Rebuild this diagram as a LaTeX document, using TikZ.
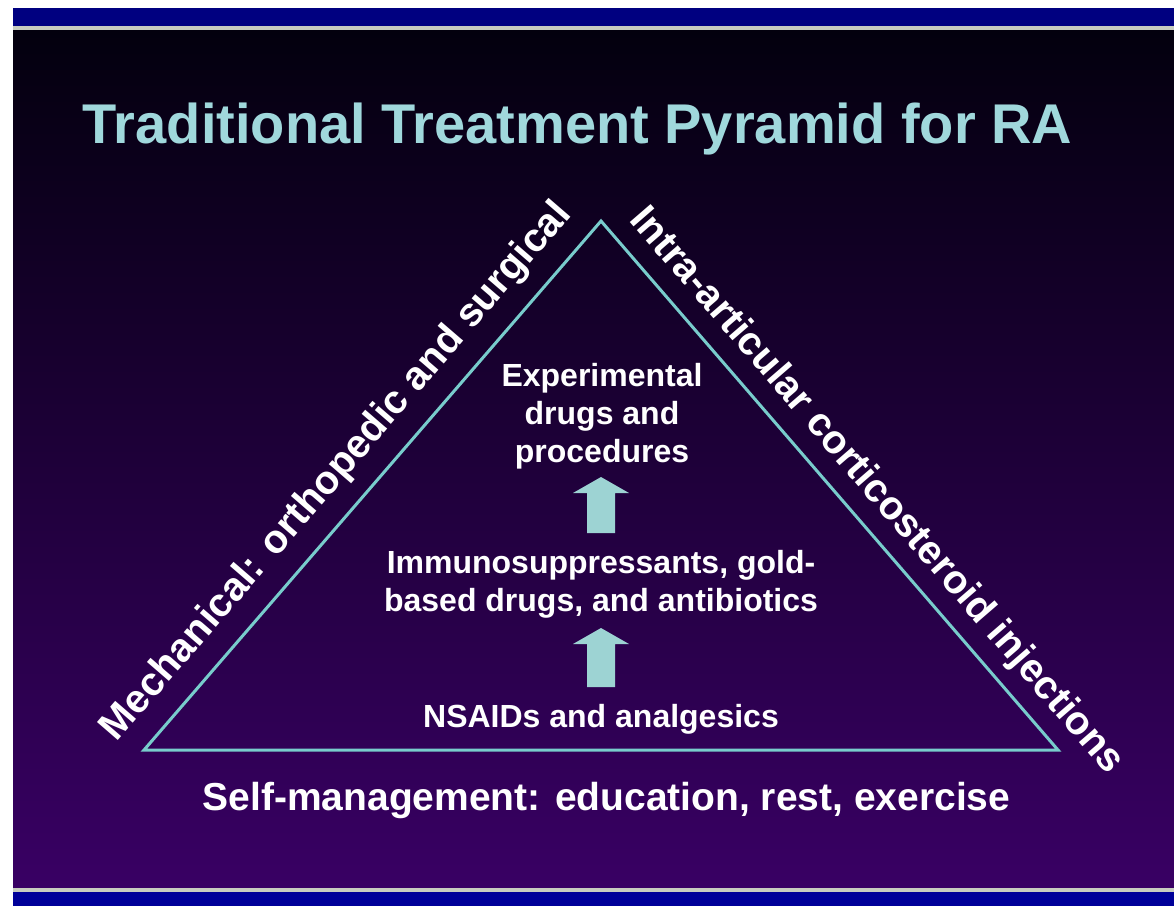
\documentclass[tikz,border=0pt]{standalone}
\usepackage{fontspec}
\setmainfont{Liberation Sans}
\definecolor{barblue}{HTML}{000080}
\definecolor{barbluelow}{HTML}{000099}
\definecolor{barline}{HTML}{C8CCC0}
\definecolor{bgtop}{HTML}{03000E}
\definecolor{bgbot}{HTML}{390064}
\definecolor{titlecyan}{HTML}{A0D8DC}
\definecolor{pyrline}{HTML}{78CCCC}
\definecolor{arrowfill}{HTML}{9DD3D3}
\begin{document}
\begin{tikzpicture}[x=1pt,y=-1pt,
  txt/.style={text=white,font=\bfseries\fontsize{32}{38}\selectfont,inner sep=0pt,align=center},
  side/.style={text=white,font=\bfseries\fontsize{40}{48}\selectfont,inner sep=0pt},
  edge/.style={draw=pyrline,line width=3pt,line join=miter},
  uparrow/.style={fill=arrowfill,draw=none}]
\useasboundingbox (0,0) rectangle (1174,906);

% fond et bandes
\fill[white] (0,0) rectangle (1174,906);
\fill[barblue] (13,8) rectangle (1174,26);
\fill[barline] (13,26) rectangle (1174,30);
\shade[top color=bgtop,bottom color=bgbot] (13,30) rectangle (1174,888);
\fill[barline] (13,888) rectangle (1174,892);
\fill[barbluelow] (13,892) rectangle (1174,906);

% titre
\node[anchor=base,text=titlecyan,font=\bfseries\fontsize{56}{64}\selectfont,inner sep=0pt] (title) at (577.5,143) {Traditional Treatment Pyramid for RA};

% pyramide
\coordinate (apex) at (601,221);
\coordinate (bl) at (144,750);
\coordinate (br) at (1058,750);
\draw[edge] (bl) -- (apex) -- (br) -- cycle;

% cotes
\node[side,rotate=49.2] (mech) at (337,472) {Mechanical: orthopedic and surgical};
\node[side,rotate=-49.2] (intra) at (876,491) {Intra-articular corticosteroid injections};

% niveaux
\node[txt] (exper) at (602,416) {Experimental\\drugs and\\procedures};
\node[txt] (immuno) at (601,584.5) {Immunosuppressants, gold-\\based drugs, and antibiotics};
\node[txt,anchor=base] (nsaid) at (601,727) {NSAIDs and analgesics};

% fleches
\foreach \t/\b in {477/533,628/687}
  \fill[uparrow] (601,\t) -- (629,\t+16) -- (615,\t+16) -- (615,\b) -- (587,\b) -- (587,\t+16) -- (573,\t+16) -- cycle;

% base
\node[anchor=base,text=white,font=\bfseries\fontsize{39}{46}\selectfont,inner sep=0pt] (selfman) at (606.5,810) {Self-management: education, rest, exercise};

\end{tikzpicture}
\end{document}
